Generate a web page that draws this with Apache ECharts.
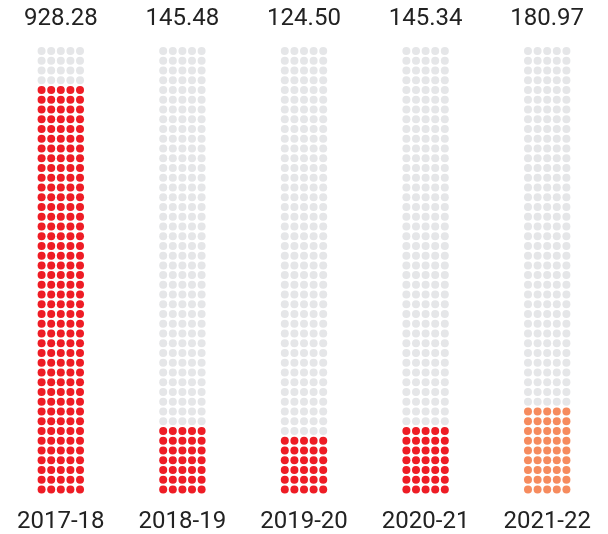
<!DOCTYPE html>
<html>
<head>
<meta charset="utf-8">
<script src="https://cdn.jsdelivr.net/npm/echarts@6/dist/echarts.min.js"></script>
<style>
html,body{margin:0;padding:0;background:#fff;}
#chart{width:608px;height:534px;}
</style>
</head>
<body>
<div id="chart"></div>
<script>
const categories = ['2017-18', '2018-19', '2019-20', '2020-21', '2021-22'];
const values = [928.28, 145.48, 124.50, 145.34, 180.97];
const filledDots = [210, 35, 30, 35, 45];
const columnColors = ['#ee1c25', '#ee1c25', '#ee1c25', '#ee1c25', '#f68b5e'];
const rowsPerColumn = 46;
const dotsPerRow = 5;

const step = 0.079;
const emptyData = [];
const filledData = [];
categories.forEach(function (cat, i) {
  for (let r = 0; r < rowsPerColumn; r++) {
    for (let c = 0; c < dotsPerRow; c++) {
      const idx = r * dotsPerRow + c;
      const pt = [i + (c - (dotsPerRow - 1) / 2) * step, r];
      if (idx < filledDots[i]) {
        filledData.push({ value: pt, itemStyle: { color: columnColors[i], opacity: 1 } });
      } else {
        emptyData.push(pt);
      }
    }
  }
});

const chart = echarts.init(document.getElementById('chart'));
chart.setOption({
  animation: false,
  grid: { left: -1, right: -3, top: 51, bottom: 44.3 },
  xAxis: [
    { type: 'value', min: -0.5, max: 4.5, show: false },
    {
      type: 'category', data: categories, position: 'bottom', gridIndex: 0,
      axisLine: { show: false }, axisTick: { show: false }, splitLine: { show: false },
      axisLabel: { margin: 32.5, verticalAlign: 'middle', fontFamily: 'Roboto', fontSize: 24, color: '#222' }
    },
    {
      type: 'category', data: values.map(function (v) { return v.toFixed(2); }), position: 'top', gridIndex: 0,
      axisLine: { show: false }, axisTick: { show: false }, splitLine: { show: false },
      axisLabel: { margin: 32, verticalAlign: 'middle', fontFamily: 'Roboto', fontSize: 24, color: '#222' }
    }
  ],
  yAxis: { type: 'value', min: 0, max: rowsPerColumn - 1, show: false },
  series: [
    {
      type: 'scatter', xAxisIndex: 0, data: emptyData, symbol: 'circle', symbolSize: 8,
      itemStyle: { color: '#e5e6e8', opacity: 1 }, silent: true
    },
    {
      type: 'scatter', xAxisIndex: 0, data: filledData, symbol: 'circle', symbolSize: 8,
      itemStyle: { opacity: 1 }, silent: true
    }
  ]
});
</script>
</body>
</html>
